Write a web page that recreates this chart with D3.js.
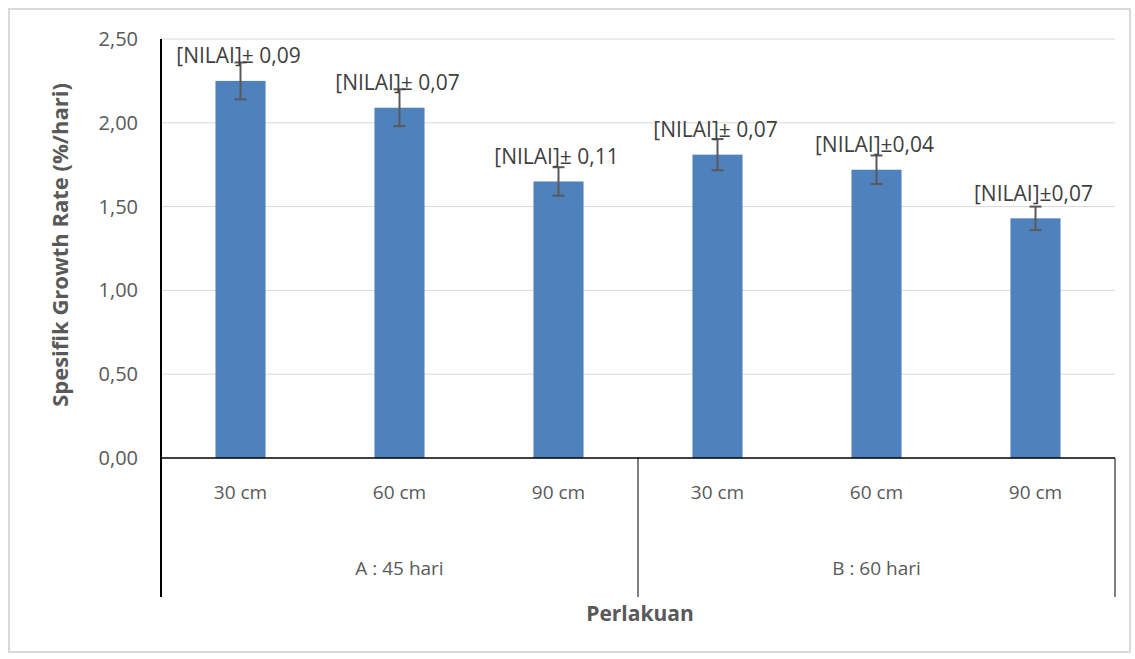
<!DOCTYPE html>
<html>
<head>
<meta charset="utf-8">
<script src="https://cdn.jsdelivr.net/npm/d3@7"></script>
<style>
body{margin:0;background:#fff;}
svg{display:block;}
text{font-family:"Open Sans","Noto Sans",sans-serif;}
</style>
</head>
<body>
<svg id="chart" width="1135" height="659"></svg>
<script>
const categories = ["30 cm","60 cm","90 cm","30 cm","60 cm","90 cm"];
const groups = ["A : 45 hari","B : 60 hari"];
const values = [2.25, 2.09, 1.65, 1.81, 1.72, 1.43];
const errors = [0.11, 0.11, 0.085, 0.093, 0.085, 0.07];
const labels = ["[NILAI]± 0,09","[NILAI]± 0,07","[NILAI]± 0,11","[NILAI]± 0,07","[NILAI]±0,04","[NILAI]±0,07"];
const yTicks = [0, 0.5, 1.0, 1.5, 2.0, 2.5];

const svg = d3.select("#chart");
const L = 161, R = 1115, T = 39, B = 458, AXB = 597;

svg.append("rect").attr("x",9).attr("y",9).attr("width",1121).attr("height",643)
  .attr("fill","#fff").attr("stroke","#d9d9d9").attr("stroke-width",2);

const idx = d3.range(values.length);
const x = d3.scaleBand().domain(idx).range([L,R]).paddingInner(0.685).paddingOuter(0.3425);
const y = d3.scaleLinear().domain([0,2.5]).range([B,T]);

// gridlines
svg.append("g").selectAll("line").data(yTicks.filter(d=>d>0)).join("line")
  .attr("x1",L).attr("x2",R).attr("y1",d=>y(d)).attr("y2",d=>y(d))
  .attr("stroke","#d9d9d9").attr("stroke-width",1);

// y axis labels
const fmt = d => d3.format(".2f")(d).replace(".",",");
const yAxis = d3.axisLeft(y).tickValues(yTicks).tickFormat(fmt).tickSize(0).tickPadding(23);
const yg = svg.append("g").attr("transform",`translate(${L},0)`).call(yAxis);
yg.select(".domain").remove();
yg.selectAll("text").attr("fill","#595959").attr("font-size",20).attr("font-family","'Open Sans',sans-serif");

// bars
svg.append("g").selectAll("rect").data(idx).join("rect")
  .attr("x",i=>x(i)).attr("width",x.bandwidth())
  .attr("y",i=>y(values[i])).attr("height",i=>B-y(values[i]))
  .attr("fill","#4f81bd");

// error bars
const eg = svg.append("g").attr("stroke","#595959").attr("stroke-width",2);
idx.forEach(i=>{
  const cx = x(i)+x.bandwidth()/2;
  const y1 = y(values[i]+errors[i]), y0 = y(values[i]-errors[i]);
  eg.append("line").attr("x1",cx).attr("x2",cx).attr("y1",y1).attr("y2",y0);
  eg.append("line").attr("x1",cx-6).attr("x2",cx+6).attr("y1",y1).attr("y2",y1);
  eg.append("line").attr("x1",cx-6).attr("x2",cx+6).attr("y1",y0).attr("y2",y0);
});

// data labels
svg.append("g").selectAll("text").data(idx).join("text")
  .attr("x",i=>x(i)+x.bandwidth()/2-2).attr("y",i=>y(values[i])-25)
  .attr("dy","0.35em").attr("text-anchor","middle")
  .attr("font-size",21).attr("fill","#404040")
  .text(i=>labels[i]);

// axes lines
const ax = svg.append("g").attr("stroke","#000");
ax.append("line").attr("x1",L).attr("x2",L).attr("y1",T).attr("y2",AXB).attr("stroke-width",2);
ax.append("line").attr("x1",L).attr("x2",R).attr("y1",B).attr("y2",B).attr("stroke-width",1.5);
const mid = x(3) - x.step()*x.paddingInner()/2;
ax.append("line").attr("x1",mid).attr("x2",mid).attr("y1",B).attr("y2",AXB).attr("stroke-width",1);
ax.append("line").attr("x1",R).attr("x2",R).attr("y1",B).attr("y2",AXB).attr("stroke-width",1);

// category labels
const xAxis = d3.axisBottom(x).tickFormat(i=>categories[i]).tickSize(0).tickPadding(28);
const xg = svg.append("g").attr("transform",`translate(0,${B})`).call(xAxis);
xg.select(".domain").remove();
xg.selectAll("text").attr("fill","#595959").attr("font-size",19).attr("font-family","'Open Sans',sans-serif");

// group labels
const gx = d3.scaleBand().domain(groups).range([L,R]);
svg.append("g").selectAll("text").data(groups).join("text")
  .attr("x",d=>gx(d)+gx.bandwidth()/2).attr("y",568).attr("dy","0.35em")
  .attr("text-anchor","middle").attr("fill","#595959").attr("font-size",19)
  .text(d=>d);

// axis titles
svg.append("text").attr("x",(L+R)/2+2).attr("y",614).attr("dy","0.35em")
  .attr("text-anchor","middle").attr("font-weight","bold").attr("font-size",21)
  .attr("fill","#595959").text("Perlakuan");
svg.append("text").attr("transform","translate(60,245) rotate(-90)").attr("dy","0.35em")
  .attr("text-anchor","middle").attr("font-weight","bold").attr("font-size",22)
  .attr("fill","#595959").text("Spesifik Growth Rate (%/hari)");
</script>
</body>
</html>
